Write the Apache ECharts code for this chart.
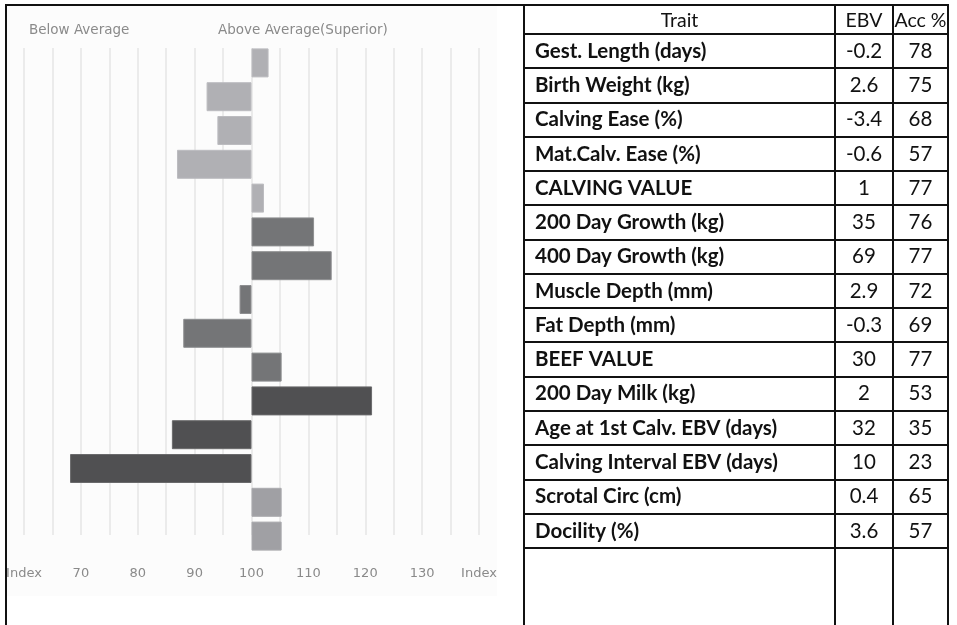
<!DOCTYPE html>
<html>
<head>
<meta charset="utf-8">
<script src="https://cdn.jsdelivr.net/npm/echarts@6/dist/echarts.min.js"></script>
<style>
html,body{margin:0;padding:0;background:#fff;}
#c{width:957px;height:625px;}
</style>
</head>
<body>
<div id="c"></div>
<script>
// ---- data ----
const traits = ['Gest. Length (days)','Birth Weight (kg)','Calving Ease (%)','Mat.Calv. Ease (%)','CALVING VALUE','200 Day Growth (kg)','400 Day Growth (kg)','Muscle Depth (mm)','Fat Depth (mm)','BEEF VALUE','200 Day Milk (kg)','Age at 1st Calv. EBV (days)','Calving Interval EBV (days)','Scrotal Circ (cm)','Docility (%)'];
const ebv = ['-0.2','2.6','-3.4','-0.6','1','35','69','2.9','-0.3','30','2','32','10','0.4','3.6'];
const acc = ['78','75','68','57','77','76','77','72','69','77','53','35','23','65','57'];
const indexValues = [103.0, 92.1, 94.0, 86.9, 102.2, 111.0, 114.1, 97.9, 88.0, 105.3, 121.2, 86.0, 68.1, 105.3, 105.3];
const tickLabels = ['Index','70','80','90','100','110','120','130','Index'];
const headers = ['Trait','EBV','Acc %'];
const sideLabels = ['Below Average','Above Average(Superior)'];
const AVG = 100;

// ---- style ----
const barFill = ['#b0b0b4','#b0b0b4','#b0b0b4','#b0b0b4','#b0b0b4',
                 '#747577','#747577','#747577','#747577','#747577',
                 '#505052','#505052','#505052','#a0a0a4','#a0a0a4'];
const barBorder = ['#bcbcc0','#bcbcc0','#bcbcc0','#bcbcc0','#bcbcc0',
                   '#8e8f91','#8e8f91','#8e8f91','#8e8f91','#8e8f91',
                   '#6a6a6c','#6a6a6c','#6a6a6c','#aaaaae','#aaaaae'];
const tableLeft = 524, tableRight = 948, colEbv = 835, colAcc = 893;
const tableTop = 5, headerBottom = 34, rowH = 34.27;
const FONT_T = 'Lato, "Open Sans", sans-serif';
const FS = '20.5px ';

const chart = echarts.init(document.getElementById('c'));

const graphics = [];
graphics.push({type:'rect', z:-10, shape:{x:6,y:6,width:491,height:590}, style:{fill:'#fcfcfc'}});
graphics.push({type:'line', shape:{x1:5,y1:5,x2:tableRight+1,y2:5}, style:{stroke:'#111',lineWidth:2}});
graphics.push({type:'line', shape:{x1:6,y1:4,x2:6,y2:625}, style:{stroke:'#111',lineWidth:2}});
graphics.push({type:'text', x:29, y:30, style:{text:sideLabels[0], fill:'#8a8a8a', font:'13.5px "DejaVu Sans"', textVerticalAlign:'middle'}});
graphics.push({type:'text', x:218, y:30, style:{text:sideLabels[1], fill:'#8a8a8a', font:'13.5px "DejaVu Sans"', textVerticalAlign:'middle'}});

const tl = {stroke:'#111', lineWidth:2};
[tableLeft, colEbv, colAcc, tableRight].forEach(x=>{
  graphics.push({type:'line', shape:{x1:x,y1:tableTop,x2:x,y2:625}, style:tl});
});
for (let k=0;k<=traits.length;k++){
  const y = Math.round(headerBottom + rowH*k);
  graphics.push({type:'line', shape:{x1:tableLeft,y1:y,x2:tableRight,y2:y}, style:tl});
}
const colCenters = [(tableLeft+colEbv)/2, (colEbv+colAcc)/2, (colAcc+tableRight)/2];
headers.forEach((h,j)=>{
  graphics.push({type:'text', x:colCenters[j], y:(tableTop+headerBottom)/2+1,
    style:{text:h, fill:'#111', font:'19.5px '+FONT_T, textAlign:'center', textVerticalAlign:'middle'}});
});
traits.forEach((t,i)=>{
  const yc = headerBottom + rowH*(i+0.5);
  graphics.push({type:'text', x:535, y:yc, style:{text:t, fill:'#111', font:'bold '+FS+FONT_T, textVerticalAlign:'middle'}});
  graphics.push({type:'text', x:colCenters[1], y:yc, style:{text:ebv[i], fill:'#111', font:FS+FONT_T, textAlign:'center', textVerticalAlign:'middle'}});
  graphics.push({type:'text', x:colCenters[2], y:yc, style:{text:acc[i], fill:'#111', font:FS+FONT_T, textAlign:'center', textVerticalAlign:'middle'}});
});

chart.setOption({
  animation:false,
  backgroundColor:'#ffffff',
  grid:[
    {left:24, right:478, top:48, bottom:90, containLabel:false, outerBoundsMode:'none'},
    {left:24, right:478, top:46, bottom:72, containLabel:false, outerBoundsMode:'none'}
  ],
  xAxis:[
    {gridIndex:0, type:'value', min:-40, max:40, interval:5,
     axisLine:{show:false}, axisTick:{show:false}, axisLabel:{show:false},
     splitLine:{show:true, lineStyle:{color:'#e6e6e6', width:1.5}}},
    {gridIndex:1, type:'value', min:-40, max:40, interval:10,
     axisLine:{show:false}, axisTick:{show:false}, splitLine:{show:false},
     axisLabel:{show:true, margin:14, color:'#8a8a8a', fontFamily:'DejaVu Sans', fontSize:13,
       formatter:v=>tickLabels[Math.round((v+40)/10)]}}
  ],
  yAxis:[
    {gridIndex:0, type:'category', data:traits, show:false, inverse:true},
    {gridIndex:1, type:'category', data:traits, show:false, inverse:true}
  ],
  series:[
    {type:'bar', xAxisIndex:0, yAxisIndex:0, data:[], silent:true},
    {type:'bar', xAxisIndex:1, yAxisIndex:1, barWidth:29,
     data:indexValues.map((v,i)=>({value:+(v-AVG).toFixed(2),
       itemStyle:{color:barFill[i], borderColor:barBorder[i], borderWidth:1}}))}
  ],
  graphic:graphics
});
</script>
</body>
</html>
